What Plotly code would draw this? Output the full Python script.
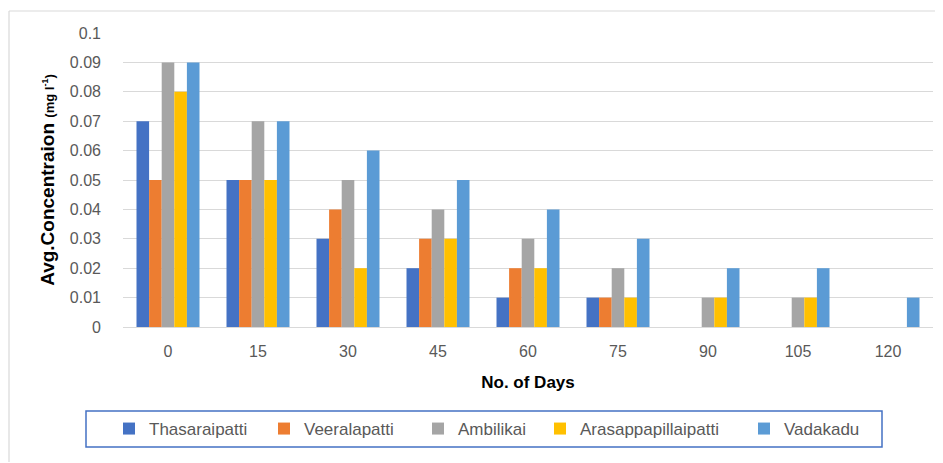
import plotly.graph_objects as go

# days after application (x categories)
days = ["0", "15", "30", "45", "60", "75", "90", "105", "120"]

# average concentration per village (mg/l)
thasaraipatti = [0.07, 0.05, 0.03, 0.02, 0.01, 0.01, 0, 0, 0]
veeralapatti = [0.05, 0.05, 0.04, 0.03, 0.02, 0.01, 0, 0, 0]
ambilikai = [0.09, 0.07, 0.05, 0.04, 0.03, 0.02, 0.01, 0.01, 0]
arasappapillaipatti = [0.08, 0.05, 0.02, 0.03, 0.02, 0.01, 0.01, 0.01, 0]
vadakadu = [0.09, 0.07, 0.06, 0.05, 0.04, 0.03, 0.02, 0.02, 0.01]

series = [
    ("Thasaraipatti", thasaraipatti, "#4472C4"),
    ("Veeralapatti", veeralapatti, "#ED7D31"),
    ("Ambilikai", ambilikai, "#A5A5A5"),
    ("Arasappapillaipatti", arasappapillaipatti, "#FFC000"),
    ("Vadakadu", vadakadu, "#5B9BD5"),
]

FONT = "Liberation Sans"

# page body has an 8px margin, so the figure is 8px smaller than the window
# plot area in page px: x 123..933, y 33..327  (paper width 810, height 294)
def px_x(p):
    return (p - 123) / 810

def px_y(p):
    return (327 - p) / 294

# left edge of each legend swatch in the reference (page px)
legend_swatch_x = [124, 279, 433, 555, 759]

fig = go.Figure()
legend_cfg = {}
for i, (name, vals, color) in enumerate(series):
    key = "legend" if i == 0 else f"legend{i + 1}"
    fig.add_trace(go.Bar(
        x=days, y=vals, name=name,
        marker=dict(color=color, line=dict(width=0)),
        legend=key,
    ))
    # one legend per entry so each sits where Excel placed it
    legend_cfg[key] = dict(
        orientation="h", x=px_x(legend_swatch_x[i] - 15), y=px_y(411),
        xanchor="left", yanchor="top",
        borderwidth=0, bgcolor="rgba(0,0,0,0)",
        font=dict(size=17, color="#595959"),
    )

# figure frame (top + left edges, picture is cropped on the other sides)
frame = dict(type="line", xref="paper", yref="paper",
             line=dict(color="#D9D9D9", width=1.2))
fig.add_shape(**frame, x0=px_x(9), x1=px_x(950), y0=px_y(11), y1=px_y(11))
fig.add_shape(**frame, x0=px_x(9), x1=px_x(9), y0=px_y(11), y1=px_y(462))

# legend box
fig.add_shape(type="rect", xref="paper", yref="paper",
              x0=px_x(86), x1=px_x(882), y0=px_y(411), y1=px_y(447),
              line=dict(color="#4472C4", width=1.5), fillcolor="rgba(0,0,0,0)")

fig.update_layout(
    width=935, height=455,
    margin=dict(l=115, r=10, t=25, b=136),
    paper_bgcolor="white", plot_bgcolor="white",
    font=dict(family=FONT, color="#595959", size=16),
    barmode="group", bargap=0.3, bargroupgap=0,
    xaxis=dict(
        type="category", showgrid=False, zeroline=False,
        showline=True, linecolor="#D9D9D9", linewidth=1,
        ticks="", ticklabelstandoff=10,
        tickfont=dict(size=16, color="#595959"),
        title=dict(text="<b>No. of Days</b>", standoff=16,
                   font=dict(size=17, color="black")),
    ),
    yaxis=dict(
        range=[0, 0.1], dtick=0.01, tickformat="~g",
        showgrid=True, gridcolor="#D9D9D9", gridwidth=1,
        zeroline=False, ticks="", ticklabelstandoff=21,
        tickfont=dict(size=16, color="#595959"),
        title=dict(
            text="<b>Avg.Concentraion <span style='font-size:13px'>(mg l<sup>-1</sup>)</span></b>",
            standoff=10, font=dict(size=19, color="black"),
        ),
    ),
    showlegend=True,
    **legend_cfg,
)

fig.write_html("out.html")
